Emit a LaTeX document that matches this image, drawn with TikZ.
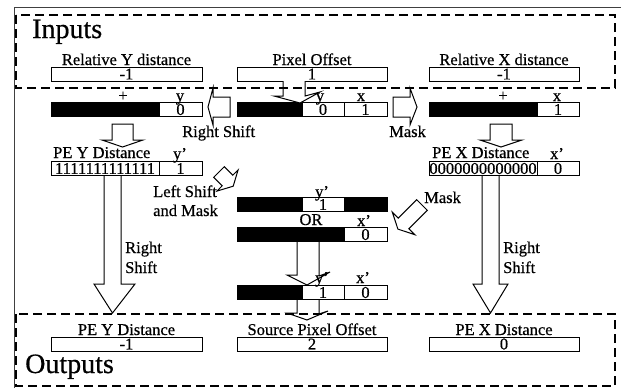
\documentclass[tikz,border=0pt]{standalone}
\usepackage{fontspec}
\setmainfont{Liberation Serif}[FakeBold=0.6]
\newcommand{\txtsz}{\fontsize{16.5}{18}\selectfont}
\newcommand{\bigsz}{\fontsize{28}{30}\selectfont}
\begin{document}
\begin{tikzpicture}[x=1pt,y=-1pt,
  cell/.style={draw, line width=1pt, inner sep=0pt, minimum height=14.5pt, font=\txtsz},
  blk/.style={cell, fill=black},
  lbl/.style={inner sep=0pt, font=\txtsz, anchor=base},
  lbll/.style={inner sep=0pt, font=\txtsz, anchor=base west},
  big/.style={inner sep=0pt, font=\bigsz, anchor=base west},
  barrow/.style={draw, fill=white, line width=1pt, line join=miter},
  dbox/.style={draw, dash pattern=on 9pt off 5pt, line width=2.2pt}]
\useasboundingbox (0,0) rectangle (621,388);
% outer frame (partly cropped)
\draw[line width=0.9pt, black!75] (14,388) -- (14,7) -- (621,7);

% ---------- input boxes ----------
\node[cell, minimum width=151pt, minimum height=14pt] (ry) at (126.5,74) {-1};
\node[cell, minimum width=150pt, minimum height=14pt] (po) at (312,74) {1};
\node[cell, minimum width=150pt, minimum height=14pt] (rx) at (504,74) {-1};
\node[lbl] (lry) at (126.5,65) {Relative Y distance};
\node[lbl] (lpo) at (312,65) {Pixel Offset};
\node[lbl] (lrx) at (504,65) {Relative X distance};

% ---------- row 2 registers ----------
\node[blk, minimum width=108pt] (ya) at (105,109.5) {};
\node[cell, minimum width=43pt] (yb) at (180.5,109.5) {0};
\node[blk, minimum width=65pt] (ma) at (269.5,109.5) {};
\node[cell, minimum width=42pt] (mb) at (323,109.5) {0};
\node[cell, minimum width=43pt] (mc) at (365.5,109.5) {1};
\node[blk, minimum width=108pt] (xa) at (483,109.5) {};
\node[cell, minimum width=42pt] (xb) at (558,109.5) {1};

% split arrow from Pixel Offset
\draw[barrow] (283,81) -- (283,96) -- (274,96) -- (300,103) -- (320,92) -- (305,96) -- (305,81);
% left / right block arrows
\draw[barrow] (230,97) -- (213,97) -- (213,88) -- (208,107) -- (213,125) -- (213,117) -- (230,117) -- cycle;
\draw[barrow] (393,97) -- (410,97) -- (410,88) -- (417,107) -- (410,125) -- (410,117) -- (393,117) -- cycle;

\node[lbl] (plus1) at (123,101) {+};
\node[lbl] (ly1) at (180,101) {y};
\node[lbl] (ly2) at (320,101) {y};
\node[lbl] (lx2) at (361,101) {x};
\node[lbl] (plus2) at (503,101) {+};
\node[lbl] (lx1) at (557,101) {x};
\node[lbll] (rs1) at (182,137) {Right Shift};
\node[lbll] (mk1) at (389,137) {Mask};

% down arrows to PE registers
\draw[barrow] (112,124) -- (133,124) -- (133,140) -- (143,140) -- (122.5,147) -- (102,140) -- (112,140) -- cycle;
\draw[barrow] (490,124) -- (512,124) -- (512,140) -- (522,140) -- (501,147) -- (480,140) -- (490,140) -- cycle;

% ---------- PE registers ----------
\node[cell, minimum width=108pt] (pya) at (105,168.5) {1111111111111};
\node[cell, minimum width=43pt] (pyb) at (180.5,168.5) {1};
\node[cell, minimum width=108pt] (pxa) at (483,168.5) {0000000000000};
\node[cell, minimum width=42pt] (pxb) at (558,168.5) {0};
\node[lbll] (lpy) at (53,158) {PE Y Distance};
\node[lbl] (lyp) at (180,159) {y'};
\node[lbll] (lpx) at (432,158) {PE X Distance};
\node[lbl] (lxp) at (557,159) {x'};

% long right-shift arrows
\draw[barrow] (104,176) -- (104,284) -- (94,284) -- (112.5,313) -- (135,284) -- (121,284) -- (121,176);
\draw[barrow] (482,176) -- (482,284) -- (473,284) -- (490.5,313) -- (508,284) -- (499,284) -- (499,176);
\node[lbll] (r1a) at (125,253) {Right};
\node[lbll] (r1b) at (125,273) {Shift};
\node[lbll] (r2a) at (503,253) {Right};
\node[lbll] (r2b) at (503,273) {Shift};

% diagonal arrows
\draw[barrow] (224.3,166.7) -- (232.8,175.2) -- (238.1,169.9) -- (233.2,186.2) -- (216.9,191.1) -- (222.2,185.8) -- (213.7,177.3) -- cycle;
\draw[barrow] (427.3,210.3) -- (408.9,228.7) -- (414.9,234.7) -- (397.9,229.1) -- (392.3,212.1) -- (398.3,218.1) -- (416.7,199.7) -- cycle;
\node[lbll] (ls1) at (153,197) {Left Shift};
\node[lbll] (ls2) at (153,216) {and Mask};
\node[lbll] (mk2) at (424,203) {Mask};

% ---------- OR section ----------
\node[blk, minimum width=65pt] (aa) at (269.5,204.5) {};
\node[cell, minimum width=42pt] (ab) at (323,204.5) {1};
\node[blk, minimum width=43pt] (ac) at (365.5,204.5) {};
\node[blk, minimum width=107pt] (ba) at (290.5,234.5) {};
\node[cell, minimum width=43pt] (bb) at (365.5,234.5) {0};
\draw[barrow] (297,242) -- (297,275) -- (287,275) -- (307,285) -- (330,272) -- (319,276) -- (319,242);
\node[blk, minimum width=65pt] (ca) at (269.5,292.5) {};
\node[cell, minimum width=42pt] (cb) at (323,292.5) {1};
\node[cell, minimum width=43pt] (cc) at (365.5,292.5) {0};
\draw[barrow] (297,300) -- (297,313) -- (287,313) -- (307,320) -- (328,311) -- (319,314) -- (319,300);
\node[lbl] (lay) at (322,197) {y'};
\node[lbl] (lor) at (311,225) {OR};
\node[lbl] (lbx) at (364,226) {x'};
\node[lbl] (lcy) at (322,283) {y'};
\node[lbl] (lcx) at (363,283) {x'};

% ---------- outputs ----------
\node[cell, minimum width=151pt, minimum height=14pt] (oy) at (126.5,344) {-1};
\node[cell, minimum width=150pt, minimum height=14pt] (os) at (312,344) {2};
\node[cell, minimum width=150pt, minimum height=14pt] (ox) at (504,344) {0};
\node[lbl] (loy) at (126.5,335) {PE Y Distance};
\node[lbl] (los) at (312,335) {Source Pixel Offset};
\node[lbl] (lox) at (504,335) {PE X Distance};

% ---------- dashed groups ----------
\draw[dbox] (16,15) rectangle (615,88);
\draw[dbox] (16,314) rectangle (615,386);
\node[big] (tin) at (32,38) {Inputs};
\node[big] (tout) at (25,373) {Outputs};
\end{tikzpicture}
\end{document}
